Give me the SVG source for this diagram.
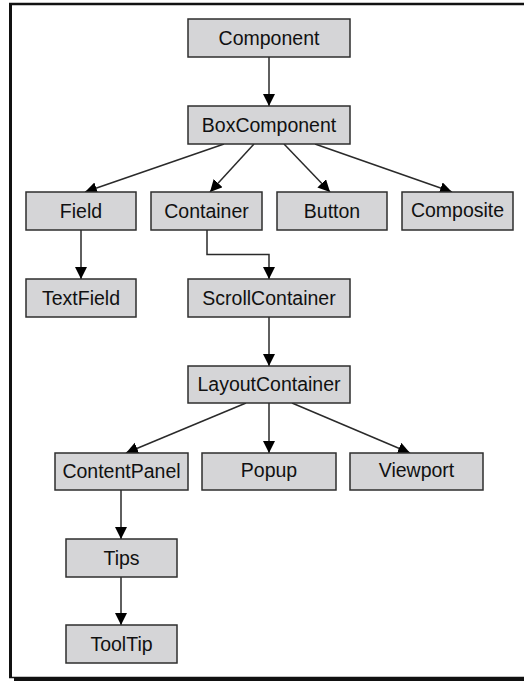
<svg xmlns="http://www.w3.org/2000/svg" width="524" height="681" viewBox="0 0 524 681">
  <style>
    .box rect { fill: #d5d5d7; stroke: #2e2e2e; stroke-width: 1.5; }
    .box text { font-family: "Liberation Sans", Arial, sans-serif; font-size: 19.5px; fill: #111; text-anchor: middle; }
    .edge { stroke: #2a2a2a; stroke-width: 1.5; fill: none; marker-end: url(#arr); }
    .frame { stroke: #111; fill: none; }
  </style>
  <defs>
    <marker id="arr" markerWidth="13" markerHeight="13" refX="12" refY="6" orient="auto" markerUnits="userSpaceOnUse">
      <path d="M0,0 L12,6 L0,12 z" fill="#000"/>
    </marker>
  </defs>

  <rect width="524" height="681" fill="#fff"/>

  <!-- outer frame -->
  <g id="frame">
    <line class="frame" x1="9" y1="4" x2="524" y2="4" stroke-width="2.5"/>
    <line class="frame" x1="10.5" y1="3" x2="10.5" y2="678" stroke-width="3"/>
    <line class="frame" x1="9" y1="677.5" x2="524" y2="677.5" stroke-width="1.5"/>
    <line class="frame" x1="14" y1="679.5" x2="524" y2="679.5" stroke-width="3"/>
  </g>

  <!-- connectors -->
  <g id="connectors">
    <line class="edge" x1="269" y1="57" x2="269" y2="106"/>
    <line class="edge" x1="224" y1="144" x2="85" y2="192"/>
    <line class="edge" x1="254" y1="144" x2="210" y2="192"/>
    <line class="edge" x1="284" y1="144" x2="330" y2="192"/>
    <line class="edge" x1="315" y1="144" x2="452" y2="192"/>
    <line class="edge" x1="81" y1="230" x2="81" y2="279"/>
    <polyline class="edge" points="207,230 207,254.5 269,254.5 269,279"/>
    <line class="edge" x1="269" y1="317" x2="269" y2="366"/>
    <line class="edge" x1="246" y1="403" x2="126" y2="453"/>
    <line class="edge" x1="269" y1="403" x2="269" y2="453"/>
    <line class="edge" x1="292" y1="403" x2="410" y2="453"/>
    <line class="edge" x1="121" y1="490" x2="121" y2="539"/>
    <line class="edge" x1="121" y1="577" x2="121" y2="625"/>
  </g>

  <!-- nodes -->
  <g id="component" class="box"><rect x="188" y="19" width="162" height="38"/><text x="269" y="45">Component</text></g>
  <g id="boxcomponent" class="box"><rect x="188" y="106" width="162" height="38"/><text x="269" y="132">BoxComponent</text></g>
  <g id="field" class="box"><rect x="26" y="192" width="110" height="38"/><text x="81" y="218">Field</text></g>
  <g id="container" class="box"><rect x="151" y="192" width="111" height="38"/><text x="206.5" y="218">Container</text></g>
  <g id="button" class="box"><rect x="277" y="192" width="110" height="38"/><text x="332" y="218">Button</text></g>
  <g id="composite" class="box"><rect x="402" y="192" width="111" height="38"/><text x="457.5" y="217">Composite</text></g>
  <g id="textfield" class="box"><rect x="26" y="279" width="110" height="38"/><text x="81" y="305">TextField</text></g>
  <g id="scrollcontainer" class="box"><rect x="188" y="279" width="162" height="38"/><text x="269" y="305">ScrollContainer</text></g>
  <g id="layoutcontainer" class="box"><rect x="188" y="366" width="162" height="37"/><text x="269" y="391">LayoutContainer</text></g>
  <g id="contentpanel" class="box"><rect x="55" y="453" width="133" height="37"/><text x="121.5" y="478">ContentPanel</text></g>
  <g id="popup" class="box"><rect x="202" y="453" width="134" height="37"/><text x="269" y="477">Popup</text></g>
  <g id="viewport" class="box"><rect x="350" y="453" width="133" height="37"/><text x="416.5" y="477">Viewport</text></g>
  <g id="tips" class="box"><rect x="66" y="539" width="111" height="38"/><text x="121.5" y="565">Tips</text></g>
  <g id="tooltip" class="box"><rect x="66" y="625" width="111" height="38"/><text x="121.5" y="651">ToolTip</text></g>
</svg>
